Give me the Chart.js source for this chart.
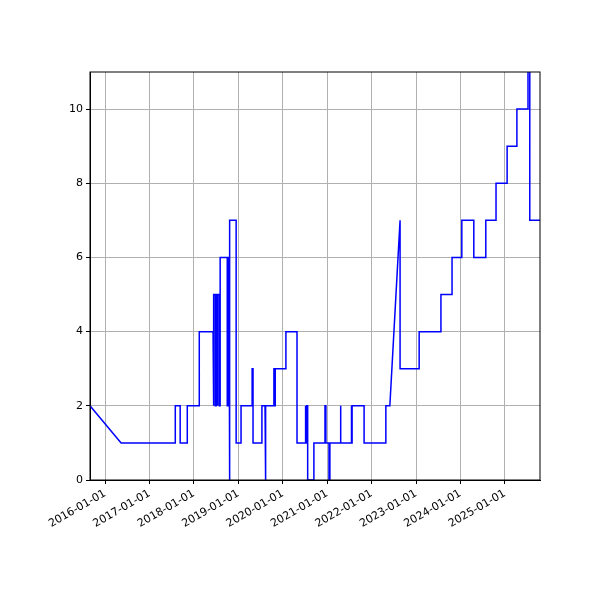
<!DOCTYPE html><html><head><script src="https://cdn.jsdelivr.net/npm/chart.js@4"></script>
<style>body{margin:0;background:#fff}</style></head><body>
<div style="width:600px;height:600px"><canvas id="c" width="600" height="600"></canvas></div>
<script>
// change times (decimal years) and the value taken from that time on
const changeX = [2015.66,2016.36,2017.58,2017.69,2017.85,2018.12,2018.43,2018.45,2018.48,2018.50,2018.52,2018.54,2018.57,2018.59,2018.75,2018.77,2018.79,2018.81,2018.95,2019.06,2019.31,2019.33,2019.53,2019.60,2019.62,2019.80,2019.82,2019.83,2020.07,2020.32,2020.50,2020.52,2020.54,2020.56,2020.70,2020.95,2020.97,2021.04,2021.06,2021.29,2021.31,2021.54,2021.55,2021.56,2021.83,2022.32,2022.41,2022.64,2022.64,2023.07,2023.56,2023.81,2024.03,2024.30,2024.57,2024.80,2025.05,2025.27,2025.52,2025.56];
const changeY = [2,1,2,1,2,4,2,5,2,5,2,5,2,6,2,6,0,7,1,2,3,1,2,0,2,3,2,3,4,1,2,1,2,0,1,2,1,0,1,2,1,2,1,2,1,2,2,7,3,4,5,6,7,6,7,8,9,10,12,7];
const diagonal = [2016.36];      // reached by a sloped line instead of a step
const diagonalAt = [47];         // index of the 2022.64 -> 7 ramp
const endX = 2025.79;
const yearTicks = [2016,2017,2018,2019,2020,2021,2022,2023,2024,2025];
const pts = [{x:changeX[0], y:changeY[0]}];
for (let i=1;i<changeX.length;i++){
  const prev = changeY[i-1];
  if (!(diagonal.includes(changeX[i]) && i===1) && !diagonalAt.includes(i)) pts.push({x:changeX[i], y:prev});
  pts.push({x:changeX[i], y:changeY[i]});
}
pts.push({x:endX, y:changeY[changeY.length-1]});
const frame = {id:'frame', afterDraw(c){const a=c.chartArea,x=c.ctx;x.save();x.strokeStyle='#000';x.lineWidth=1;x.strokeRect(a.left,a.top,a.right-a.left,a.bottom-a.top);x.restore();}};
new Chart(document.getElementById('c'), {
  type:'line',
  data:{datasets:[{data:pts, borderColor:'#0000ff', borderWidth:1.5, pointRadius:0, tension:0, fill:false}]},
  plugins:[frame],
  options:{responsive:false, animation:false, plugins:{legend:{display:false},tooltip:{enabled:false}},
    layout:{padding:{top:72,right:60,left:0,bottom:0}},
    scales:{
      x:{type:'linear', min:2015.66, max:endX,
        afterBuildTicks:a=>{a.ticks=yearTicks.map(v=>({value:v}));},
        afterFit:a=>{a.height=120;},
        grid:{color:'#b0b0b0', drawTicks:true, tickLength:4, tickColor:'#000'},
        border:{color:'#000'},
        ticks:{color:'#000', font:{family:'DejaVu Sans', size:11}, maxRotation:30, minRotation:30, autoSkip:false,
          callback:v=>v+'-01-01'}},
      y:{min:0, max:11,
        afterBuildTicks:a=>{a.ticks=[0,2,4,6,8,10].map(v=>({value:v}));},
        afterFit:a=>{a.width=90;},
        grid:{color:'#b0b0b0', tickLength:4, tickColor:'#000'},
        border:{color:'#000'},
        ticks:{color:'#000', font:{family:'DejaVu Sans', size:11}}}
    }}
});
</script></body></html>
